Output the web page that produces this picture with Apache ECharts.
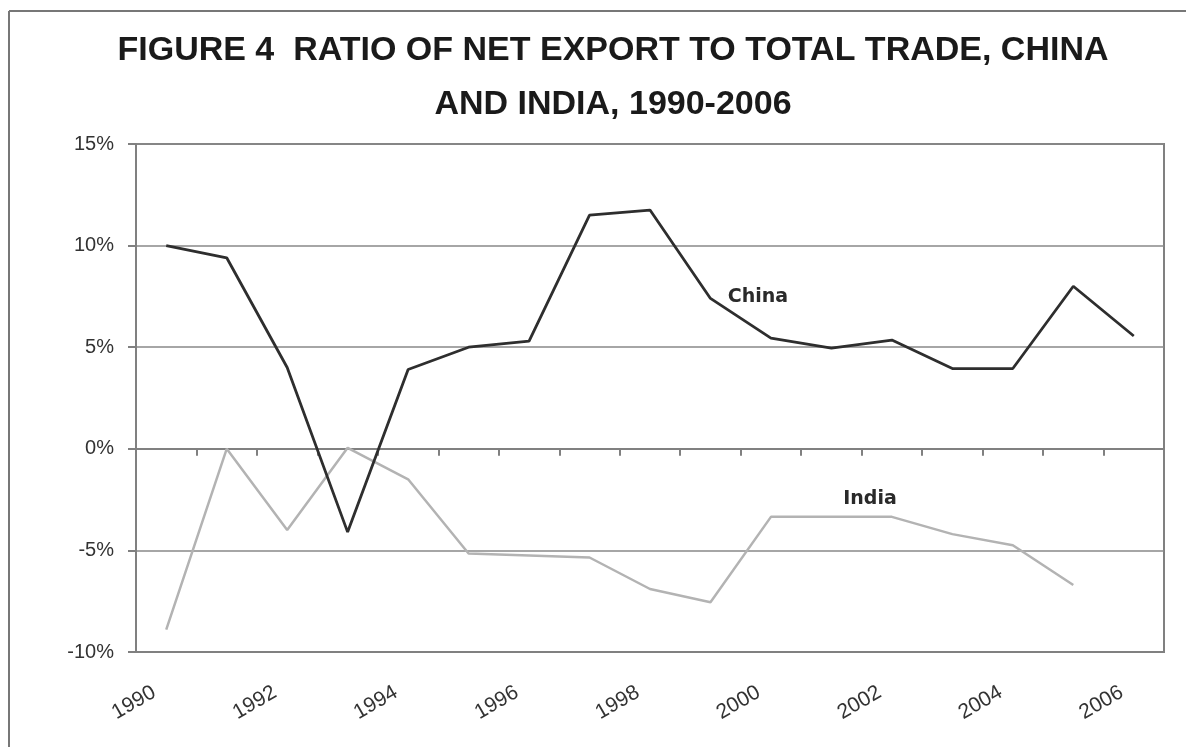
<!DOCTYPE html>
<html>
<head>
<meta charset="utf-8">
<title>Ratio of net export to total trade, China and India</title>
<script src="https://cdn.jsdelivr.net/npm/echarts@6/dist/echarts.min.js"></script>
<style>
  html, body { margin: 0; padding: 0; background: #fff; }
  #chart { width: 1186px; height: 747px; }
</style>
</head>
<body>
<div id="chart"></div>
<script>
// years on the category axis
const years = ["1990", "1991", "1992", "1993", "1994", "1995", "1996", "1997", "1998",
  "1999", "2000", "2001", "2002", "2003", "2004", "2005", "2006"];
// net export / total trade, in %
const china = [10.0, 9.4, 4.0, -4.1, 3.9, 5.0, 5.3, 11.5, 11.75, 7.4, 5.45, 4.95, 5.35, 3.95, 3.95, 8.0, 5.55];
const india = [-8.9, 0.0, -4.0, 0.05, -1.5, -5.15, -5.25, -5.35, -6.9, -7.55, -3.35, -3.35, -3.35, -4.2, -4.75, -6.7, null];
// y axis ticks
const yMin = -10;
const yMax = 15;
const yStep = 5;

const axisGray = "#808080";
const chart = echarts.init(document.getElementById("chart"));

chart.setOption({
  backgroundColor: "#fff",
  animation: false,
  title: {
    text: "FIGURE 4  RATIO OF NET EXPORT TO TOTAL TRADE, CHINA\nAND INDIA, 1990-2006",
    left: 608,
    top: 19,
    textAlign: "center",
    textStyle: {
      fontFamily: "Liberation Sans",
      fontWeight: "bold",
      fontSize: 34,
      lineHeight: 54,
      color: "#1a1a1a",
    },
  },
  grid: {
    left: 136,
    right: 22,
    top: 144,
    bottom: 95,
    show: true,
    borderColor: axisGray,
    borderWidth: 2,
  },
  xAxis: [
    {
      // bottom axis: only the rotated year labels
      type: "category",
      data: years,
      position: "bottom",
      boundaryGap: true,
      axisLine: { onZero: false, lineStyle: { color: axisGray, width: 2 } },
      axisTick: { show: false },
      splitLine: { show: false },
      axisLabel: {
        interval: 1,
        rotate: 30,
        margin: 32,
        padding: [0, 14, 0, 0],
        fontFamily: "Liberation Sans",
        fontSize: 21,
        color: "#333",
      },
    },
    {
      // axis crossing at 0% with the tick marks
      type: "category",
      data: years,
      position: "top",
      boundaryGap: true,
      axisLine: { onZero: true, lineStyle: { color: axisGray, width: 2 } },
      axisTick: { show: true, inside: true, length: 7, interval: 0, lineStyle: { color: axisGray, width: 2 } },
      axisLabel: { show: false },
      splitLine: { show: false },
    },
  ],
  yAxis: {
    type: "value",
    min: yMin,
    max: yMax,
    interval: yStep,
    axisLine: { show: true, lineStyle: { color: axisGray, width: 2 } },
    axisTick: { show: true, length: 8, lineStyle: { color: axisGray, width: 2 } },
    axisLabel: {
      formatter: "{value}%",
      margin: 22,
      fontFamily: "Liberation Sans",
      fontSize: 20,
      color: "#333",
    },
    splitLine: { lineStyle: { color: "#888", width: 1.5 } },
  },
  series: [
    {
      name: "China",
      type: "line",
      data: china,
      showSymbol: false,
      symbol: "none",
      lineStyle: { color: "#2e2e2e", width: 2.8 },
      z: 3,
    },
    {
      name: "India",
      type: "line",
      data: india,
      showSymbol: false,
      symbol: "none",
      lineStyle: { color: "#b3b3b3", width: 2.5 },
      z: 2,
    },
  ],
  graphic: [
    // outer figure frame (top and left edges)
    { type: "line", shape: { x1: 9, y1: 11, x2: 1186, y2: 11 }, style: { stroke: "#777", lineWidth: 2 } },
    { type: "line", shape: { x1: 9, y1: 11, x2: 9, y2: 747 }, style: { stroke: "#777", lineWidth: 2 } },
    {
      type: "text", x: 758, y: 297,
      style: { text: "China", fontFamily: "DejaVu Sans", fontWeight: "bold", fontSize: 19, fill: "#2a2a2a", align: "center", verticalAlign: "middle" },
    },
    {
      type: "text", x: 870, y: 499,
      style: { text: "India", fontFamily: "DejaVu Sans", fontWeight: "bold", fontSize: 19, fill: "#2a2a2a", align: "center", verticalAlign: "middle" },
    },
  ],
});
</script>
</body>
</html>
